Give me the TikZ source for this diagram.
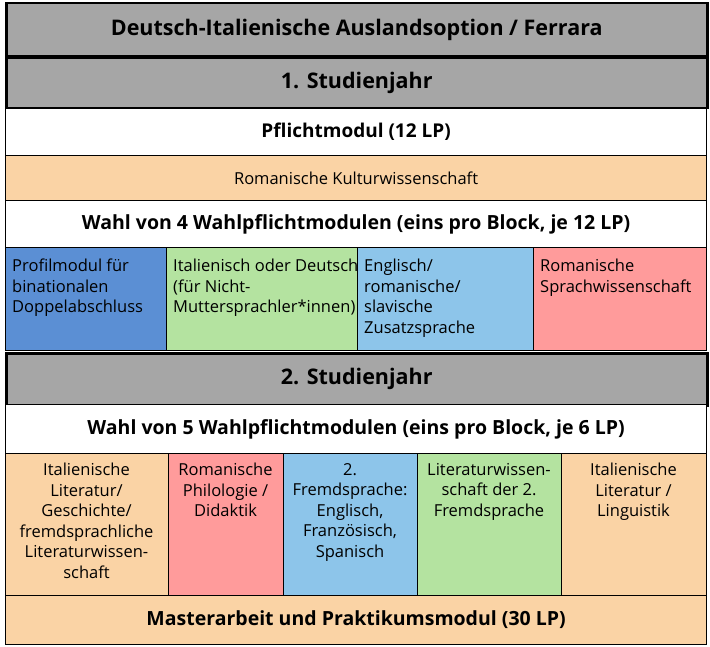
\documentclass[tikz,border=0pt]{standalone}
\usepackage{fontspec}
\setmainfont{Open Sans}
\definecolor{headgray}{HTML}{A6A6A6}
\definecolor{modorange}{HTML}{FAD3A5}
\definecolor{modblue}{HTML}{5B8FD4}
\definecolor{modgreen}{HTML}{B4E3A0}
\definecolor{modsky}{HTML}{8DC5EA}
\definecolor{modpink}{HTML}{FF9B9B}
\tikzset{
	cell/.style = {draw = black, line width = 1.2pt, rectangle, anchor = north west, inner sep = 0pt},
	head/.style = {cell, fill = headgray, line width = 2.5pt},
	rowtext/.style = {font = \fontsize{21.5}{24}\selectfont\bfseries},
	boxtext/.style = {font = \fontsize{16.5}{20.5}\selectfont, anchor = north west, inner sep = 0pt}
}
% Cell: name, x, y, width, height, style
\newcommand{\cell}[6]{\node [#6, minimum width = #4 pt, minimum height = #5 pt] (#1) at (#2, #3) {};}
\begin{document}
\begin{tikzpicture}[x = 1pt, y = -1pt]

	\useasboundingbox (0, 0) rectangle (710, 647);

	% Year one

	\cell{title}{5}{2}{701}{53}{head}
	\node [rowtext] at (title) {Deutsch-Italienische Auslandsoption / Ferrara};
	\cell{yearone}{5}{57}{701}{50}{head}
	\node [rowtext] at (yearone) {1. Studienjahr};
	\cell{pflicht}{5}{108}{701}{47}{cell, fill = white}
	\node [rowtext, font = \fontsize{19}{22}\selectfont\bfseries] at (pflicht) {Pflichtmodul (12 LP)};
	\cell{kultur}{5}{155}{701}{45}{cell, fill = modorange}
	\node [font = \fontsize{16.5}{20}\selectfont] at (kultur) {Romanische Kulturwissenschaft};
	\cell{wahlone}{5}{200}{701}{47}{cell, fill = white}
	\node [rowtext, font = \fontsize{19.5}{22}\selectfont\bfseries] at (wahlone) {Wahl von 4 Wahlpflichtmodulen (eins pro Block, je 12 LP)};

	\cell{profil}{5}{247}{161}{103}{cell, fill = modblue}
	\cell{italdt}{166}{247}{191}{103}{cell, fill = modgreen}
	\cell{engl}{357}{247}{176}{103}{cell, fill = modsky}
	\cell{sprach}{533}{247}{173}{103}{cell, fill = modpink}
	\node [boxtext, align = left] at (12, 259) {Profilmodul für\\binationalen\\Doppelabschluss};
	\node [boxtext, align = left] at (173, 259) {Italienisch oder Deutsch\\(für Nicht-\\Muttersprachler*innen)};
	\node [boxtext, align = left] at (364, 259) {Englisch/\\romanische/\\slavische\\Zusatzsprache};
	\node [boxtext, align = left] at (540, 259) {Romanische\\Sprachwissenschaft};

	% Year two

	\cell{yeartwo}{5}{352}{701}{52}{head}
	\node [rowtext] at (yeartwo) {2. Studienjahr};
	\cell{wahltwo}{5}{404}{701}{49}{cell, fill = white}
	\node [rowtext, font = \fontsize{19.5}{22}\selectfont\bfseries] at (wahltwo) {Wahl von 5 Wahlpflichtmodulen (eins pro Block, je 6 LP)};

	\cell{litone}{5}{453}{163}{142}{cell, fill = modorange}
	\cell{philo}{168}{453}{115}{142}{cell, fill = modpink}
	\cell{fremd}{283}{453}{134}{142}{cell, fill = modsky}
	\cell{littwo}{417}{453}{144}{142}{cell, fill = modgreen}
	\cell{litthree}{561}{453}{145}{142}{cell, fill = modorange}
	\node [boxtext, align = center, anchor = north] at (86.5, 463) {Italienische\\Literatur/\\Geschichte/\\fremdsprachliche\\Literaturwissen-\\schaft};
	\node [boxtext, align = center, anchor = north] at (225.5, 463) {Romanische\\Philologie /\\Didaktik};
	\node [boxtext, align = center, anchor = north] at (350, 463) {2.\\Fremdsprache:\\Englisch,\\Französisch,\\Spanisch};
	\node [boxtext, align = center, anchor = north] at (489, 463) {Literaturwissen-\\schaft der 2.\\Fremdsprache};
	\node [boxtext, align = center, anchor = north] at (633.5, 463) {Italienische\\Literatur /\\Linguistik};

	\cell{master}{5}{595}{701}{49}{cell, fill = modorange}
	\node [rowtext, font = \fontsize{19.5}{22}\selectfont\bfseries] at (master) {Masterarbeit und Praktikumsmodul (30 LP)};

\end{tikzpicture}
\end{document}
